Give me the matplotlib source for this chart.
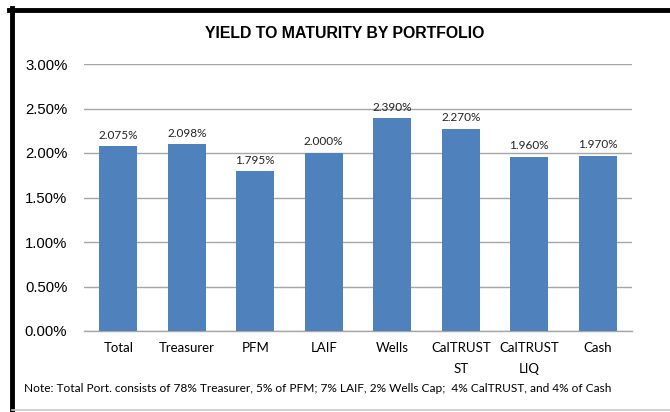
import matplotlib
matplotlib.use("Agg")
import matplotlib.pyplot as plt
from matplotlib.lines import Line2D

categories = ["Total", "Treasurer", "PFM", "LAIF", "Wells", "CalTRUST\nST", "CalTRUST\nLIQ", "Cash"]
values = [2.075, 2.098, 1.795, 2.000, 2.390, 2.270, 1.960, 1.970]
labels = ["2.075%", "2.098%", "1.795%", "2.000%", "2.390%", "2.270%", "1.960%", "1.970%"]
yticks = [0.0, 0.5, 1.0, 1.5, 2.0, 2.5, 3.0]
ytick_labels = ["0.00%", "0.50%", "1.00%", "1.50%", "2.00%", "2.50%", "3.00%"]
title = "YIELD TO MATURITY BY PORTFOLIO"
note = "Note: Total Port. consists of 78% Treasurer, 5% of PFM; 7% LAIF, 2% Wells Cap;  4% CalTRUST, and 4% of Cash"

W, H = 670, 412
fig = plt.figure(figsize=(6.7, 4.12), dpi=100)
ax = fig.add_axes([84 / W, 1 - 331 / H, (632 - 84) / W, (331 - 64) / H])

x = range(len(categories))
ax.bar(x, values, width=0.56, color="#4F81BD", zorder=3)
for xi, v, lab in zip(x, values, labels):
    ax.annotate(lab, (xi, v), xytext=(0, 4), textcoords="offset points",
                ha="center", va="bottom", fontsize=8.5, family="Lato", color="#222222")

ax.set_xlim(-0.5, len(categories) - 0.5)
ax.set_ylim(0, 3.0)
ax.set_yticks(yticks)
ax.set_yticklabels(ytick_labels, family="Liberation Sans", fontsize=10.7)
ax.set_xticks(list(x))
ax.set_xticklabels(categories, family="Lato", fontsize=9.5, linespacing=1.9)
ax.tick_params(axis="both", length=0)
ax.tick_params(axis="y", pad=12)
ax.tick_params(axis="x", pad=8)
ax.yaxis.grid(True, color="#A6A6A6", linewidth=1.0, zorder=0)
for s in ["top", "right", "left"]:
    ax.spines[s].set_visible(False)
ax.spines["bottom"].set_color("#A6A6A6")
ax.spines["bottom"].set_linewidth(1.0)

fig.text(345 / W, 1 - 33 / H, title, ha="center", va="center",
         fontsize=11.4, fontweight="bold", family="Liberation Sans")
fig.text(24 / W, 1 - 389 / H, note, ha="left", va="center", fontsize=8.55, family="Lato")

# outer frame
fig.add_artist(Line2D([9 / W, 1.0], [1 - 10 / H, 1 - 10 / H], color="black", linewidth=3.5,
                      transform=fig.transFigure))
fig.add_artist(Line2D([12 / W, 12 / W], [0, 1 - 8 / H], color="black", linewidth=3.5,
                      transform=fig.transFigure))
fig.add_artist(Line2D([12 / W, 1.0], [1 - 410 / H, 1 - 410 / H], color="#C8C8C8", linewidth=1.2,
                      transform=fig.transFigure))

fig.savefig("out.png", dpi=100)
